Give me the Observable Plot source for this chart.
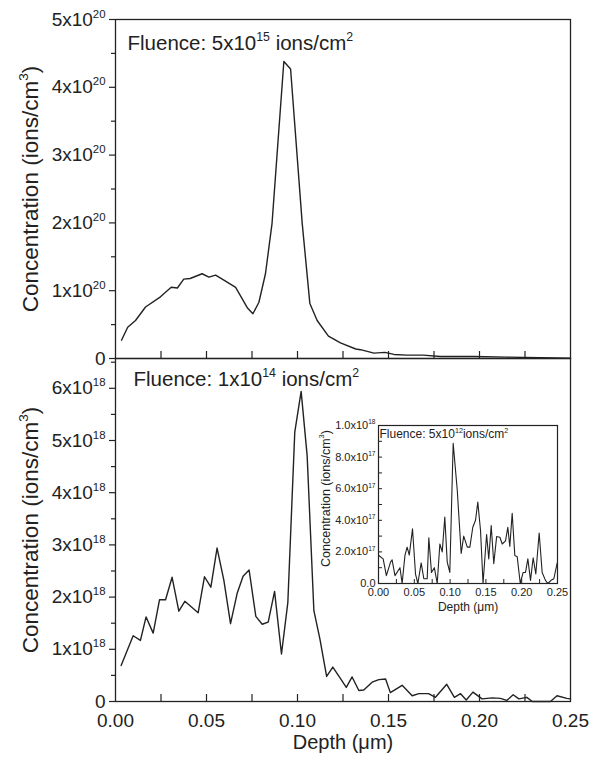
<!DOCTYPE html>
<html><head><meta charset="utf-8">
<script src="https://cdn.jsdelivr.net/npm/d3@7"></script>
<script src="https://cdn.jsdelivr.net/npm/@observablehq/plot@0.6"></script>
<style>
body{margin:0;background:#fff}
#wrap{position:relative;width:598px;height:759px;overflow:hidden;background:#fff}
#wrap > svg{position:absolute;overflow:visible}
</style></head><body><div id="wrap"></div>
<script>
// ---------- data ----------
// top panel: fluence 5x10^15, concentration in units of 1e20 ions/cm^3
const topDepth = [0.0033,0.0067,0.011,0.0165,0.0247,0.0306,0.034,0.0375,0.041,0.0476,0.0513,0.055,0.060,0.066,0.0724,0.0755,0.0788,0.0824,0.086,0.0925,0.0962,0.1026,0.1068,0.1108,0.117,0.1236,0.132,0.1346,0.142,0.148,0.153,0.160,0.169,0.1786,0.197,0.215,0.2335,0.25];
const topConc  = [0.27,0.46,0.56,0.76,0.91,1.05,1.04,1.17,1.18,1.25,1.20,1.23,1.15,1.05,0.75,0.66,0.83,1.25,1.99,4.38,4.27,1.99,0.81,0.56,0.33,0.23,0.14,0.13,0.08,0.09,0.06,0.05,0.05,0.03,0.03,0.02,0.01,0.005];
// bottom panel: fluence 1x10^14, concentration in units of 1e18
const botDepth = [0.0031,0.0097,0.0137,0.0168,0.0207,0.0242,0.0275,0.0311,0.0348,0.0381,0.0454,0.0489,0.0524,0.0558,0.0595,0.0632,0.0669,0.0701,0.0734,0.0771,0.0806,0.0839,0.0874,0.0912,0.0947,0.0985,0.102,0.1053,0.109,0.1123,0.116,0.1194,0.123,0.1268,0.130,0.1337,0.1364,0.141,0.1447,0.1484,0.151,0.1575,0.163,0.1667,0.172,0.1758,0.182,0.1862,0.1896,0.1927,0.1964,0.2014,0.207,0.2115,0.215,0.2185,0.2216,0.226,0.229,0.239,0.2426,0.248,0.25];
const botConc  = [0.69,1.26,1.17,1.62,1.31,1.95,1.95,2.38,1.73,1.92,1.70,2.39,2.19,2.94,2.33,1.49,2.08,2.40,2.52,1.63,1.48,1.52,2.11,0.91,1.90,5.16,5.94,4.71,1.74,1.20,0.48,0.66,0.47,0.27,0.47,0.21,0.22,0.37,0.42,0.43,0.17,0.31,0.11,0.15,0.15,0.08,0.33,0.08,0.15,0.03,0.18,0.05,0.07,0.06,0.02,0.13,0.05,0.08,0.0,0.0,0.11,0.06,0.05];
// inset: fluence 5x10^12, concentration in units of 1e17
const insDepth = [0.0005,0.0065,0.011,0.0168,0.019,0.023,0.030,0.033,0.037,0.040,0.043,0.0475,0.0517,0.055,0.0596,0.0633,0.068,0.0703,0.074,0.078,0.082,0.0857,0.089,0.0926,0.096,0.0996,0.1043,0.110,0.1155,0.119,0.124,0.1276,0.1317,0.1355,0.1387,0.1425,0.146,0.151,0.154,0.1574,0.161,0.165,0.1695,0.1728,0.1774,0.1806,0.1834,0.1867,0.1904,0.1937,0.198,0.202,0.2053,0.2086,0.2123,0.216,0.2197,0.2244,0.2286,0.2332,0.2365,0.241,0.2449,0.2496];
const insConc  = [1.77,1.56,0.5,1.35,1.5,0.5,1.0,0.0,1.8,2.3,1.8,3.46,0.6,0.0,1.3,0.3,0.3,2.9,0.7,1.0,0.0,2.5,2.0,4.2,1.35,0.7,8.88,5.9,1.9,3.0,2.3,2.3,3.56,4.0,5.15,3.35,0.0,3.1,1.56,3.67,1.25,2.97,2.93,2.5,2.7,3.56,2.34,4.45,1.77,1.7,0.0,0.7,0.7,1.56,0.2,1.63,0.6,3.2,0.7,0.2,0.0,0.2,0.3,1.3];

// ticks and labels
const xTicks = [0,0.05,0.1,0.15,0.2,0.25];
const xTickLabels = ["0.00","0.05","0.10","0.15","0.20","0.25"];
const xMinorTicks = [0.025,0.05,0.075,0.1,0.125,0.15,0.175,0.2,0.225];
const topYTicks = [0,1,2,3,4,5];
const topYTickLabels = ["0","1x10^20","2x10^20","3x10^20","4x10^20","5x10^20"];
const topYMinor = [0.5,1.5,2.5,3.5,4.5];
const botYTicks = [0,1,2,3,4,5,6];
const botYTickLabels = ["0","1x10^18","2x10^18","3x10^18","4x10^18","5x10^18","6x10^18"];
const botYMinor = [0.5,1.5,2.5,3.5,4.5,5.5,6.5];
const insYTicks = [0,2,4,6,8,10];
const insYTickLabels = ["0.0","2.0x10^17","4.0x10^17","6.0x10^17","8.0x10^17","1.0x10^18"];
const insYMinor = [1,3,5,7,9];
const yTitle = "Concentration (ions/cm^3)";
const xTitle = "Depth (\u03bcm)";
const topFluence = "Fluence: 5x10^15 ions/cm^2";
const botFluence = "Fluence: 1x10^14 ions/cm^2";
const insFluence = "Fluence: 5x10^12ions/cm^2";

// ---------- helpers ----------
const FONT = '"Liberation Sans", Arial, Helvetica, sans-serif';
const INK = "#222";
const rows = (xs, ys) => xs.map((x, i) => ({depth: x, conc: ys[i]}));
const lookup = (vals, labels) => d => labels[vals.indexOf(d)] ?? "";

function supify(svg) {
  const ns = "http://www.w3.org/2000/svg";
  svg.querySelectorAll("text").forEach(t => {
    const s = t.textContent;
    if (!s.includes("^")) return;
    const fs = parseFloat(getComputedStyle(t).fontSize) || 12;
    const shift = fs * 0.42, small = fs * 0.6;
    const parts = s.split(/\^(\d+)/);
    t.textContent = "";
    let raised = false;
    parts.forEach((p, i) => {
      const ts = document.createElementNS(ns, "tspan");
      if (i % 2 === 1) { ts.setAttribute("dy", -shift); ts.setAttribute("font-size", small); raised = true; }
      else if (raised) { ts.setAttribute("dy", shift); raised = false; }
      ts.textContent = p;
      t.appendChild(ts);
    });
  });
}

const wrap = document.getElementById("wrap");
function place(svg, left, top) {
  svg.style.left = left + "px";
  svg.style.top = top + "px";
  wrap.appendChild(svg);
  supify(svg);
}
const baseStyle = {fontFamily: FONT, color: INK, background: "transparent", overflow: "visible"};

// ---------- top panel ----------
const topSvg = Plot.plot({
  width: 598, height: 372,
  marginTop: 19, marginBottom: 14, marginLeft: 115, marginRight: 28,
  x: {domain: [0, 0.25], axis: null},
  y: {domain: [0, 5]},
  style: {...baseStyle, fontSize: "19px"},
  marks: [
    Plot.axisY({ticks: topYTicks, tickSize: 6, tickPadding: 4, tickFormat: lookup(topYTicks, topYTickLabels), label: null, fontSize: 19, strokeWidth: 1.2}),
    Plot.axisY({ticks: topYMinor, tickSize: 4, tickFormat: () => "", label: null, strokeWidth: 1.2}),
    Plot.tickX(xMinorTicks, {x: d => d, insetTop: 339 - 7, stroke: INK, strokeWidth: 1.2}),
    Plot.line(rows(topDepth, topConc), {x: "depth", y: "conc", stroke: INK, strokeWidth: 1.4}),
    Plot.text([topFluence], {text: d => d, frameAnchor: "top-left", textAnchor: "start", lineAnchor: "top", dx: 12, dy: 16, fontSize: 20.5, fill: INK}),
    Plot.text([yTitle], {text: d => d, frameAnchor: "left", textAnchor: "middle", rotate: -90, dx: -85, fontSize: 22.5, fill: INK}),
    Plot.frame({stroke: INK, strokeWidth: 1.3})
  ]
});
place(topSvg, 0, 0);

// ---------- bottom panel ----------
const botSvg = Plot.plot({
  width: 598, height: 419,
  marginTop: 18, marginBottom: 58, marginLeft: 115, marginRight: 28,
  x: {domain: [0, 0.25]},
  y: {domain: [0, 343 / 52.2]},
  style: {...baseStyle, fontSize: "19px"},
  marks: [
    Plot.axisY({ticks: botYTicks, tickSize: 6, tickPadding: 4, tickFormat: lookup(botYTicks, botYTickLabels), label: null, fontSize: 19, strokeWidth: 1.2}),
    Plot.axisY({ticks: botYMinor, tickSize: 4, tickFormat: () => "", label: null, strokeWidth: 1.2}),
    Plot.axisX({ticks: xTicks, tickSize: 0, tickPadding: 12, tickFormat: lookup(xTicks, xTickLabels), label: null, fontSize: 19}),
    Plot.tickX(xMinorTicks, {x: d => d, insetTop: 343 - 7, stroke: INK, strokeWidth: 1.2}),
    Plot.line(rows(botDepth, botConc), {x: "depth", y: "conc", stroke: INK, strokeWidth: 1.4}),
    Plot.text([botFluence], {text: d => d, frameAnchor: "top-left", textAnchor: "start", lineAnchor: "top", dx: 18, dy: 13, fontSize: 20.5, fill: INK}),
    Plot.text([yTitle], {text: d => d, frameAnchor: "left", textAnchor: "middle", rotate: -90, dx: -85, fontSize: 22.5, fill: INK}),
    Plot.text([xTitle], {text: d => d, frameAnchor: "bottom", dy: 47, fontSize: 20, fill: INK}),
    Plot.frame({stroke: INK, strokeWidth: 1.3})
  ]
});
place(botSvg, 0, 340);

// ---------- inset ----------
const insSvg = Plot.plot({
  width: 290, height: 215,
  marginTop: 15, marginBottom: 42, marginLeft: 88, marginRight: 23,
  x: {domain: [0, 0.25]},
  y: {domain: [0, 10]},
  style: {...baseStyle, fontSize: "11px"},
  marks: [
    Plot.axisY({ticks: insYTicks, tickSize: 0, tickPadding: 3, tickFormat: lookup(insYTicks, insYTickLabels), label: null, fontSize: 11}),
    Plot.axisX({ticks: xTicks, tickSize: 0, tickPadding: 5, tickFormat: lookup(xTicks, xTickLabels), label: null, fontSize: 11}),
    Plot.tickY([...insYTicks, ...insYMinor], {y: d => d, insetRight: 179 - 4, stroke: INK}),
    Plot.tickX(xMinorTicks, {x: d => d, insetTop: 158 - 4, stroke: INK}),
    Plot.line(rows(insDepth, insConc), {x: "depth", y: "conc", stroke: INK, strokeWidth: 1.1}),
    Plot.text([insFluence], {text: d => d, frameAnchor: "top-left", textAnchor: "start", lineAnchor: "top", dx: 1, dy: 4, fontSize: 12, fill: INK}),
    Plot.text([yTitle], {text: d => d, frameAnchor: "left", textAnchor: "middle", rotate: -90, dx: -53, dy: -6, fontSize: 12.5, fill: INK}),
    Plot.text([xTitle], {text: d => d, frameAnchor: "bottom", dy: 27, fontSize: 12, fill: INK}),
    Plot.frame({stroke: INK, strokeWidth: 1.2})
  ]
});
place(insSvg, 290, 410);
</script>
</body></html>
